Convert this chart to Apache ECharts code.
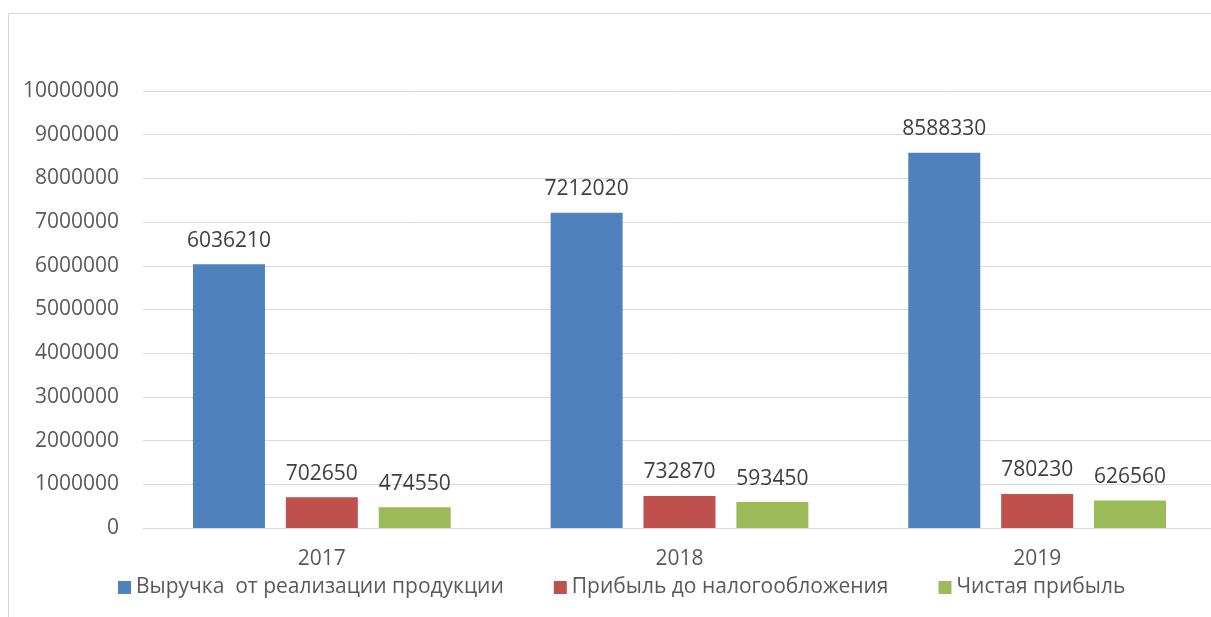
<!DOCTYPE html>
<html>
<head>
<meta charset="utf-8">
<script src="https://cdn.jsdelivr.net/npm/echarts@6/dist/echarts.min.js"></script>
<style>
  html, body { margin: 0; padding: 0; background: #ffffff; }
  #chart { width: 1211px; height: 617px; }
</style>
</head>
<body>
<div id="chart"></div>
<script>
// Годы и показатели (руб.)
const years = ['2017', '2018', '2019'];
const revenue = [6036210, 7212020, 8588330];
const profitBeforeTax = [702650, 732870, 780230];
const netProfit = [474550, 593450, 626560];
const seriesNames = [
  'Выручка  от реализации продукции',
  'Прибыль до налогообложения',
  'Чистая прибыль'
];
const colors = ['#4f81bd', '#c0504d', '#9bbb59'];

const FONT = '"Open Sans", "DejaVu Sans", sans-serif';

const chart = echarts.init(document.getElementById('chart'), null, { renderer: 'canvas' });

function barSeries(name, data, color) {
  return {
    name: name,
    type: 'bar',
    data: data,
    barWidth: 72,
    barGap: '29%',
    itemStyle: { color: color },
    label: {
      show: true,
      position: 'top',
      distance: 13,
      color: '#404040',
      fontFamily: FONT,
      fontSize: 21
    },
    emphasis: { disabled: true }
  };
}

chart.setOption({
  animation: false,
  backgroundColor: '#ffffff',
  graphic: [{
    type: 'rect',
    shape: { x: 8.5, y: 13.5, width: 1400, height: 800 },
    style: { fill: 'none', stroke: '#d9d9d9', lineWidth: 1 },
    silent: true
  }],
  // the plot area runs a little past the right edge of the canvas
  grid: { left: 143, top: 91, width: 1073, height: 437, outerBoundsMode: 'none' },
  legend: {
    left: 118,
    top: 577,
    padding: 0,
    itemWidth: 13,
    itemHeight: 13,
    itemGap: 50,
    icon: 'rect',
    selectedMode: false,
    textStyle: { color: '#595959', fontFamily: FONT, fontSize: 21 },
    data: seriesNames
  },
  xAxis: {
    type: 'category',
    data: years,
    axisLine: { show: true, lineStyle: { color: '#d9d9d9', width: 1 } },
    axisTick: { show: false },
    axisLabel: { color: '#595959', fontFamily: FONT, fontSize: 21, margin: 21 },
    splitLine: { show: false }
  },
  yAxis: {
    type: 'value',
    min: 0,
    max: 10000000,
    interval: 1000000,
    axisLine: { show: false },
    axisTick: { show: false },
    axisLabel: {
      color: '#595959',
      fontFamily: FONT,
      fontSize: 21,
      margin: 24,
      formatter: function (v) { return String(v); }
    },
    splitLine: { show: true, lineStyle: { color: '#d9d9d9', width: 1 } }
  },
  series: [
    barSeries(seriesNames[0], revenue, colors[0]),
    barSeries(seriesNames[1], profitBeforeTax, colors[1]),
    barSeries(seriesNames[2], netProfit, colors[2])
  ]
});
</script>
</body>
</html>
